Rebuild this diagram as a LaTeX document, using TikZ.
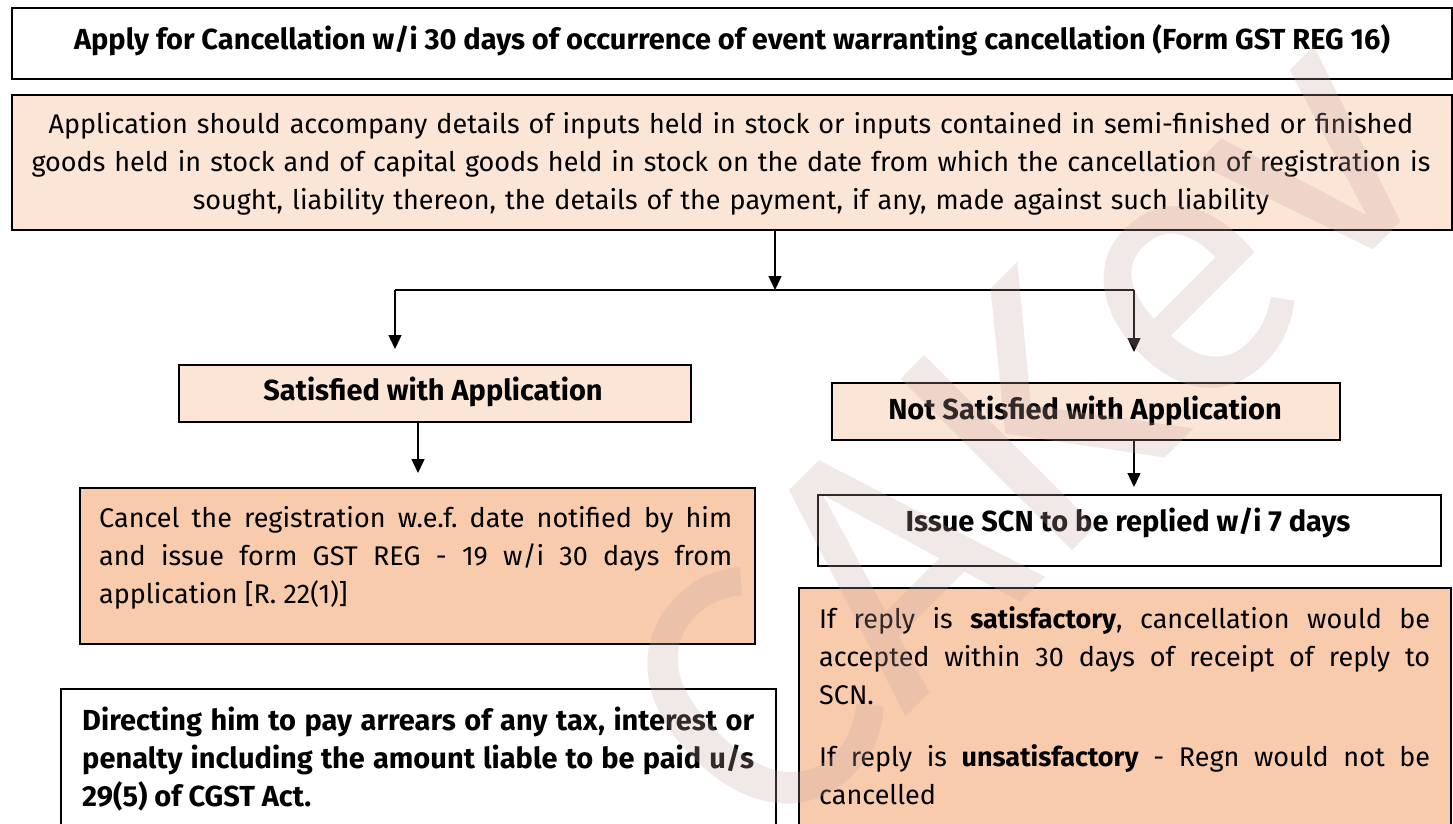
\documentclass[tikz,border=0pt]{standalone}
\usepackage{fontspec}
\setmainfont{Fira Sans}
\usetikzlibrary{arrows.meta}
\definecolor{peachL}{HTML}{FBE5D6}
\definecolor{peachD}{HTML}{F8CBAD}
\definecolor{wmark}{RGB}{200,165,165}
\frenchspacing
\begin{document}
\begin{tikzpicture}[x=1pt,y=-1pt,
  flowbox/.style={draw=black, line width=1.6pt, inner sep=0pt, anchor=north west},
  conn/.style={line width=1.4pt, draw=black},
  arr/.style={conn, -{Triangle[width=13pt,length=14pt]}},
  bodytxt/.style={inner sep=0pt, font=\fontsize{27}{38}\selectfont},
  boldtxt/.style={inner sep=0pt, font=\fontsize{29}{38}\selectfont\bfseries}
]
\clip (0,0) rectangle (1453,823);
\fill[white] (0,0) rectangle (1453,823);

% boxes
\node[flowbox, fill=white, minimum width=1440pt, minimum height=71pt] (top) at (11,7) {};
\node[flowbox, fill=peachL, minimum width=1440pt, minimum height=135pt] (app) at (11,94) {};
\node[flowbox, fill=peachL, minimum width=512pt, minimum height=57pt] (sat) at (178,364) {};
\node[flowbox, fill=peachL, minimum width=508pt, minimum height=57pt] (nsat) at (831,382) {};
\node[flowbox, fill=peachD, minimum width=675pt, minimum height=156pt] (cancel) at (79,487) {};
\node[flowbox, fill=white, minimum width=623pt, minimum height=71pt] (scn) at (817,494) {};
\node[flowbox, fill=white, minimum width=715pt, minimum height=200pt] (direct) at (60,688) {};
\node[flowbox, fill=peachD, minimum width=652pt, minimum height=300pt] (reply) at (798,587) {};

% texts
\node[boldtxt] (toptxt) at (732,40) {Apply for Cancellation w/i 30 days of occurrence of event warranting cancellation (Form GST REG 16)};
\node[bodytxt, align=center, text width=1430pt] (apptxt) at (731,164) {Application should accompany details of inputs held in stock or inputs contained in semi-finished or finished\\ goods held in stock and of capital goods held in stock on the date from which the cancellation of registration is\\ sought, liability thereon, the details of the payment, if any, made against such liability};
\node[boldtxt] (sattxt) at (433,392) {Satisfied with Application};
\node[boldtxt] (nsattxt) at (1085,411) {Not Satisfied with Application};
\node[boldtxt] (scntxt) at (1128,523) {Issue SCN to be replied w/i 7 days};
\node[bodytxt, align=justify, text width=633pt, anchor=north west] (canceltxt) at (99,506) {Cancel the registration w.e.f. date notified by him\linebreak and issue form GST REG - 19 w/i 30 days from\linebreak application [R. 22(1)]};
\node[boldtxt, align=justify, text width=672pt, anchor=north west] (directtxt) at (82,707) {Directing him to pay arrears of any tax, interest or\linebreak penalty including the amount liable to be paid u/s\linebreak 29(5) of CGST Act.};
\node[bodytxt, align=justify, text width=611pt, anchor=north west] (replytxt) at (819,606) {If reply is \textbf{satisfactory}, cancellation would be\linebreak accepted within 30 days of receipt of reply to\linebreak SCN.\\[24pt] If reply is \textbf{unsatisfactory} - Regn would not be\linebreak cancelled};

% connectors
\coordinate (jn) at (775,290);
\coordinate (jl) at (395,290);
\coordinate (jr) at (1134,290);
\coordinate (tl) at (395,349);
\coordinate (tr) at (1134,352);
\coordinate (ts) at (418,473);
\coordinate (tn) at (1134,487);
\draw[arr] (app.south -| jn) -- (jn);
\draw[conn] (jl) -- (jr);
\draw[arr] (jl) -- (tl);
\draw[arr] (jr) -- (tr);
\draw[arr] (sat.south -| ts) -- (ts);
\draw[arr] (nsat.south -| tn) -- (tn);

% watermark
\node[rotate=45, anchor=base west, inner sep=0pt, text=wmark, text opacity=0.25,
      font=\fontsize{352}{352}\selectfont] (wm) at (765,858) {CAKev};
\end{tikzpicture}
\end{document}
